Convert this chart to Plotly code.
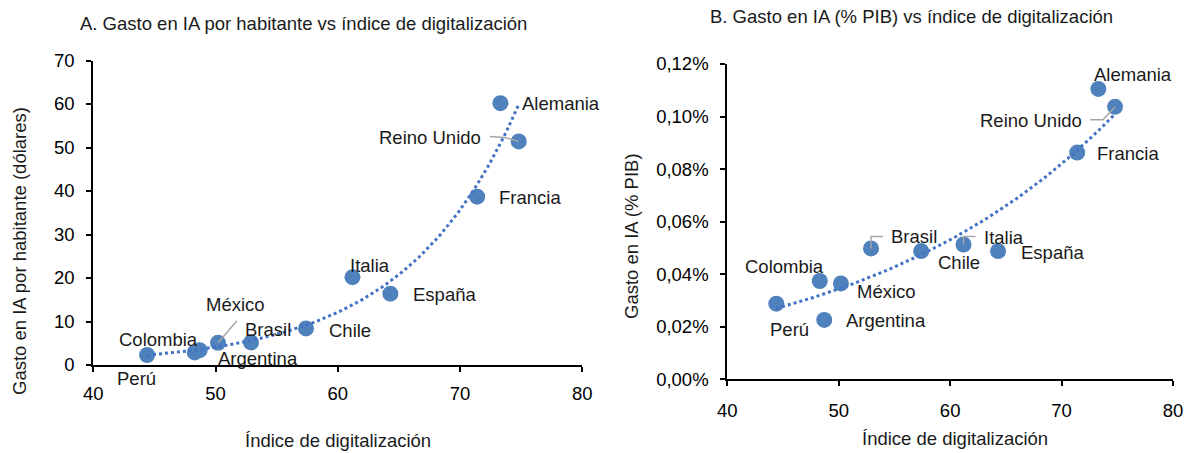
"""
Gasto en IA vs indice de digitalizacion: two scatter panels with exponential trendlines
"""

import numpy as np
import plotly.graph_objects as go
from plotly.subplots import make_subplots

# ---- data ----
paises = ['Perú', 'Colombia', 'Argentina', 'México', 'Brasil', 'Chile',
          'Italia', 'España', 'Francia', 'Alemania', 'Reino Unido']
indice_digital = [44.4, 48.3, 48.7, 50.2, 52.9, 57.4, 61.2, 64.3, 71.4, 73.3, 74.8]
gasto_hab = [2.3, 2.9, 3.4, 5.1, 5.2, 8.4, 20.2, 16.4, 38.7, 60.2, 51.4]
gasto_pib = [0.0288, 0.0374, 0.0226, 0.0365, 0.0498, 0.0488, 0.0513, 0.0488, 0.0863, 0.1105, 0.1037]

x_ticks = [40, 50, 60, 70, 80]
y_ticks_a = [0, 10, 20, 30, 40, 50, 60, 70]
y_ticks_b = [0, 0.02, 0.04, 0.06, 0.08, 0.10, 0.12]
y_labels_b = ['0,00%', '0,02%', '0,04%', '0,06%', '0,08%', '0,10%', '0,12%']

# label offsets in pixels (xshift, yshift) for each country
offsets_a = [(-11, -23), (-36, 13), (58, -8), (17, 38), (17, 13), (44, -2),
             (18, 12), (54, -1), (53, -1), (61, 0), (-89, 4)]
offsets_b = [(13, -26), (-35, 15), (62, -1), (46, -8), (43, 12), (38, -11),
             (40, 7), (54, -1), (51, -1), (35, 14), (-84, -14)]

# leader lines: country -> pixel path relative to the point
leaders_a = {'México': 'M0,0 L19,22', 'Reino Unido': 'M0,0 L-14,4 L-29,5'}
leaders_b = {'Brasil': 'M0,0 L0,12 L12,12', 'Italia': 'M0,0 L0,8 L12,8',
             'Reino Unido': 'M0,0 L-12,-13 L-25,-13'}

FONT = 'Liberation Sans, Arial, sans-serif'
FS = 18.5
DOT = '#4f81bd'
TREND = '#4472c4'
GREY = '#a6a6a6'


def exp_trend(x, y):
    """Excel-style exponential trendline"""
    x = np.asarray(x, dtype=float)
    b, a = np.polyfit(x, np.log(np.asarray(y, dtype=float)), 1)
    xs = np.linspace(x.min(), x.max(), 120)
    return xs, np.exp(a + b * xs)


fig = make_subplots(rows=1, cols=2)

for col, yvals in ((1, gasto_hab), (2, gasto_pib)):
    fig.add_trace(
        go.Scatter(
            x=indice_digital, y=yvals, mode='markers',
            marker=dict(color=DOT, size=16),
            hoverinfo='text', text=paises
        ),
        row=1, col=col
    )
    tx, ty = exp_trend(indice_digital, yvals)
    fig.add_trace(
        go.Scatter(
            x=tx, y=ty, mode='lines',
            line=dict(color=TREND, width=3, dash='dot'),
            hoverinfo='skip'
        ),
        row=1, col=col
    )

# data labels
for i, name in enumerate(paises):
    for xref, yref, yvals, offs in (('x', 'y', gasto_hab, offsets_a),
                                    ('x2', 'y2', gasto_pib, offsets_b)):
        fig.add_annotation(
            x=indice_digital[i], y=yvals[i], xref=xref, yref=yref,
            text=name, showarrow=False,
            xshift=offs[i][0], yshift=offs[i][1],
            font=dict(family=FONT, size=FS, color='#1a1a1a')
        )

# leader lines
for xref, yref, yvals, leaders in (('x', 'y', gasto_hab, leaders_a),
                                   ('x2', 'y2', gasto_pib, leaders_b)):
    for name, path in leaders.items():
        i = paises.index(name)
        fig.add_shape(
            type='path', path=path, xref=xref, yref=yref,
            xsizemode='pixel', ysizemode='pixel',
            xanchor=indice_digital[i], yanchor=yvals[i],
            line=dict(color=GREY, width=1.5)
        )

W, H = 1188, 453
axis_style = dict(
    showline=True, linecolor='black', linewidth=2, showgrid=False, zeroline=False,
    ticks='outside', ticklen=5, tickwidth=2, tickcolor='black', automargin=False,
    tickfont=dict(family=FONT, size=FS, color='black')
)

fig.update_xaxes(axis_style)
fig.update_yaxes(axis_style)

fig.update_xaxes(range=[40, 80], tickvals=x_ticks, ticklabelstandoff=6,
                 domain=[93.3 / W, 582.3 / W], row=1, col=1)
fig.update_yaxes(range=[0, 70], tickvals=y_ticks_a, ticklabelstandoff=8,
                 domain=[1 - 365 / H, 1 - 60.5 / H], row=1, col=1)
fig.update_xaxes(range=[40, 80], tickvals=x_ticks, ticklabelstandoff=8,
                 domain=[727.3 / W, 1173 / W], row=1, col=2)
fig.update_yaxes(range=[0, 0.12], tickvals=y_ticks_b, ticktext=y_labels_b,
                 ticklabelstandoff=8,
                 domain=[1 - 379.3 / H, 1 - 64 / H], row=1, col=2)

# titles and axis titles as paper annotations
texts = [
    ('A. Gasto en IA por habitante vs índice de digitalización', 303, 23, 0),
    ('B. Gasto en IA (% PIB) vs índice de digitalización', 912, 17, 0),
    ('Índice de digitalización', 338, 440, 0),
    ('Índice de digitalización', 955, 438, 0),
    ('Gasto en IA por habitante (dólares)', 19, 251, -90),
    ('Gasto en IA (% PIB)', 631, 236, -90),
]
for t, px_, py_, ang in texts:
    fig.add_annotation(
        x=px_ / W, y=1 - py_ / H, xref='paper', yref='paper',
        text=t, showarrow=False, textangle=ang,
        xanchor='center', yanchor='middle',
        font=dict(family=FONT, size=FS, color='#1a1a1a')
    )

fig.update_layout(
    width=W, height=H,
    margin=dict(l=0, r=0, t=0, b=0),
    paper_bgcolor='white', plot_bgcolor='white',
    showlegend=False,
    font=dict(family=FONT, size=FS, color='black')
)

# drop the page's default body margin so the figure sits at the window corner
fig.write_html("out.html", config={'displayModeBar': False},
               post_script="document.body.style.margin = '0';")
